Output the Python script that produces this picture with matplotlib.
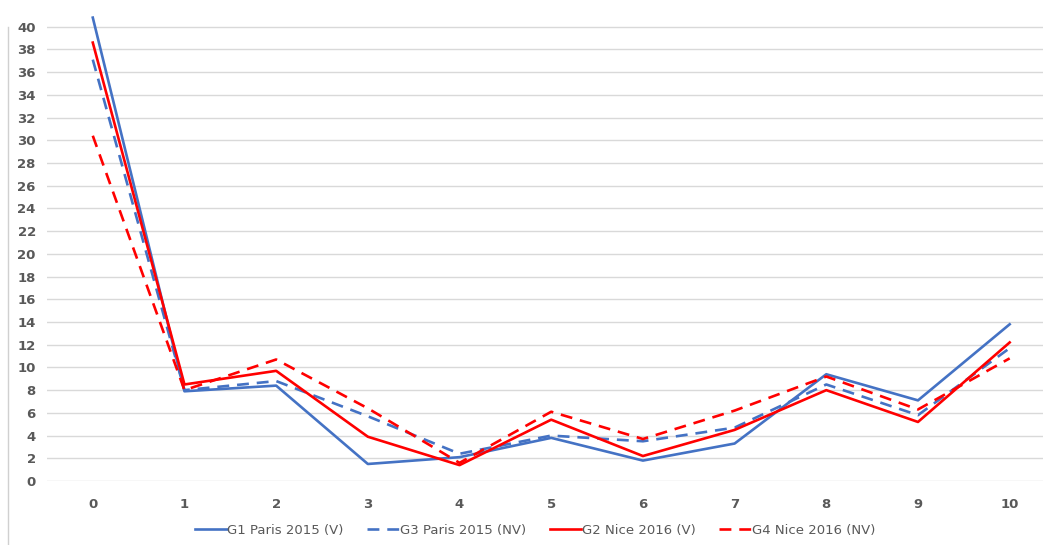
import matplotlib.pyplot as plt
from matplotlib.lines import Line2D

x = [0, 1, 2, 3, 4, 5, 6, 7, 8, 9, 10]
g1_paris = [40.8, 7.9, 8.4, 1.5, 2.1, 3.8, 1.8, 3.3, 9.4, 7.1, 13.8]
g3_paris = [37.1, 8.0, 8.8, 5.7, 2.4, 4.0, 3.5, 4.7, 8.5, 5.8, 11.7]
g2_nice = [38.6, 8.5, 9.7, 3.9, 1.4, 5.4, 2.2, 4.5, 8.0, 5.2, 12.2]
g4_nice = [30.4, 8.0, 10.7, 6.4, 1.6, 6.1, 3.7, 6.2, 9.2, 6.3, 10.8]
labels = ['G1 Paris 2015 (V)', 'G3 Paris 2015 (NV)', 'G2 Nice 2016 (V)', 'G4 Nice 2016 (NV)']

blue = '#4472C4'
red = '#FF0000'
grey = '#595959'

fig = plt.figure(figsize=(10.43, 5.45), dpi=100)
ax = fig.add_axes([0.045, 0.1174, 0.967, 0.8753])

ax.plot(x, g1_paris, color=blue, lw=1.9, label=labels[0])
ax.plot(x, g3_paris, color=blue, lw=1.9, dashes=(4.5, 3), label=labels[1])
ax.plot(x, g2_nice, color=red, lw=1.9, label=labels[2])
ax.plot(x, g4_nice, color=red, lw=1.9, dashes=(4.5, 3), label=labels[3])

ax.set_xlim(-0.5, 10.5)
ax.set_ylim(0, 42)
ax.set_yticks(range(0, 42, 2))
ax.set_xticks(x)
ax.grid(axis='y', color='#d9d9d9', lw=1)
ax.set_axisbelow(True)
for s in ax.spines.values():
    s.set_visible(False)
ax.tick_params(length=0)
ax.tick_params(axis='y', pad=8, labelsize=9.5, labelcolor=grey)
ax.tick_params(axis='x', pad=12, labelsize=9.5, labelcolor=grey)
for t in ax.get_xticklabels() + ax.get_yticklabels():
    t.set_fontweight('bold')

fig.legend(loc='center', bbox_to_anchor=(0.513, 0.027), ncol=4, frameon=False,
           fontsize=9.5, labelcolor=grey, handlelength=2.4, columnspacing=1.8,
           handletextpad=0.05)

fig.add_artist(Line2D([0.008, 0.008], [0.0, 0.95], color='#d0d0d0', lw=1))

fig.savefig('out.png', dpi=100)
